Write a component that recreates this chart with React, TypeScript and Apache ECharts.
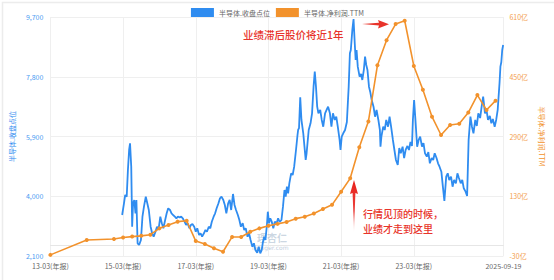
import React, { useEffect, useRef } from "react";
import * as echarts from "echarts";

// x positions are months since 2013-03
const xTickMonths = [0, 24, 48, 72, 96, 120, 149.6];
const xTickLabels = ["13-03(年报)", "15-03(年报)", "17-03(年报)", "19-03(年报)", "21-03(年报)", "23-03(年报)", "2025-09-19"];
const leftTicks = [2100, 4000, 5900, 7800, 9700];
const rightTicks = [-30, 130, 290, 450, 610];

const seriesNames = ["半导体.收盘点位", "半导体.净利润.TTM"];

const profitMonths = [0, 12, 21, 24, 27, 30, 33, 36, 39, 42, 45, 48, 51, 54, 57, 60, 63, 66, 69, 72, 75, 78, 81, 84, 87, 90, 93, 96, 99, 102, 105, 108, 111, 114, 117, 120, 123, 126, 129, 132, 135, 138, 141, 144, 147];
const profitValues = [-27, 13, 15.5, 19.5, 22, 24, 27, 44, 53, 62, 64.5, 10, 2, -9, -18.5, 21, 21, 35, 44, 51, 56, 61, 70, 75, 84, 96, 107, 142, 178, 261, 330, 481, 548, 591, 600, 479, 415, 343, 294, 321, 324, 354, 401, 361, 386];

const indexMonths = [23.7,24.3,24.7,25.2,25.6,26.0,26.3,26.7,27.0,27.3,27.7,28.1,28.4,28.8,29.3,29.9,30.4,30.9,31.5,32.0,32.5,33.1,33.6,34.1,34.7,35.2,35.7,36.3,36.8,37.3,37.9,38.4,38.9,39.5,40.0,40.5,41.1,41.6,42.1,42.7,43.2,43.7,44.3,44.8,45.3,45.9,46.4,46.9,47.5,48.0,48.5,49.1,49.6,50.1,50.7,51.2,51.7,52.3,52.8,53.3,53.9,54.4,54.9,55.5,56.0,56.5,57.1,57.6,58.1,58.7,59.2,59.7,60.3,60.8,61.3,61.9,62.4,62.9,63.5,64.0,64.5,65.1,65.6,66.1,66.7,67.2,67.7,68.3,68.8,69.3,69.8,70.2,70.6,71.0,71.5,71.8,72.2,72.6,73.1,73.6,74.1,74.7,75.2,75.7,76.3,76.8,77.3,77.7,78.1,78.5,78.9,79.5,80.0,80.5,81.1,81.6,81.8,82.1,82.5,82.9,83.2,83.5,83.9,84.3,84.6,84.9,85.3,85.9,86.4,86.9,87.3,87.7,88.1,88.5,89.1,89.6,90.1,90.7,91.2,91.7,92.3,92.8,93.3,93.9,94.4,94.9,95.5,95.8,96.2,96.7,97.3,97.9,98.5,98.9,99.2,99.7,100.1,100.5,100.8,101.1,101.5,102.1,102.6,103.0,103.5,103.9,104.3,104.7,105.2,105.6,106.1,106.7,107.2,107.7,108.3,108.8,109.0,109.3,109.9,110.4,110.9,111.5,112.0,112.5,113.1,113.6,114.1,114.7,115.2,115.7,116.3,116.8,117.3,117.9,118.4,118.9,119.4,119.7,120.1,120.5,121.1,121.6,122.1,122.7,123.2,123.7,124.3,124.8,125.3,125.9,126.4,126.9,127.5,128.0,128.5,129.1,129.6,130.1,130.7,131.2,131.7,132.3,132.8,133.3,133.9,134.4,134.9,135.5,136.0,136.5,137.1,137.6,138.1,138.7,139.2,139.7,140.3,140.8,141.3,141.9,142.4,142.9,143.5,144.0,144.5,145.1,145.6,146.1,146.7,147.2,147.7,148.3,148.6,148.9,149.2,149.5];
const indexValues = [3404,3776,4040,3986,4835,5471,5684,4940,3032,3776,3881,3458,3881,2504,2450,2609,3350,3668,3986,3776,3563,3032,2822,2714,2873,3032,2927,3350,3140,2981,3245,3458,3617,3563,3458,3404,3350,3299,3350,3331,3350,3299,3191,3086,3140,2981,3086,3118,3032,2873,2981,2768,2822,2714,2822,2927,2873,3032,2981,3191,3350,3458,3617,3776,3935,3986,3881,3722,3458,3776,3881,3563,4072,3722,3563,3404,3245,3032,3140,2927,2981,2714,2822,2609,2396,2504,2291,2205,2396,2186,2291,2555,2714,2609,3086,3509,3140,3299,3191,2981,3191,3140,3299,3181,3245,3668,4199,3986,4304,4094,4412,4730,4676,4940,5471,5948,6107,6170,7147,6425,6212,6002,5576,5153,5366,5684,6107,6320,6638,7484,7961,7484,6848,6638,6743,6425,6212,6638,6743,6848,6638,6212,6638,6425,6530,6212,5789,5471,5894,6002,6107,6361,7484,8546,8651,9287,9637,8864,8333,8651,8120,7802,7888,7697,8015,8438,8174,8015,7484,7325,7061,6848,6530,6743,6425,6107,5576,5894,6212,6107,6425,6212,6530,6212,5789,5471,5153,4994,5534,5366,5576,5216,5471,5598,5471,5725,5598,6425,7061,6488,5576,5789,5894,5576,5693,5366,5258,5407,5048,5216,5153,5366,5216,5048,4940,4781,4304,3849,4622,4730,4517,4622,4304,4517,4412,4730,4580,4412,4517,4253,4145,4008,5789,6530,6212,6002,6425,6234,6638,6488,6848,7166,6638,6743,6425,6552,6320,6457,6212,6425,6743,7592,8120,8269,8651,8810];

const BLUE = "#2f8cf0";
const ORANGE = "#f2922c";
const RED = "#e8332a";
const FONT = "Noto Sans CJK SC";

export default function App() {
  const ref = useRef<HTMLDivElement>(null);
  useEffect(() => {
    if (!ref.current) return;
    const chart = echarts.init(ref.current, undefined, { renderer: "svg" });
    const xLabel = (v: number) => {
      for (let i = 0; i < xTickMonths.length; i++) {
        if (Math.abs(xTickMonths[i] - v) < 0.01) return xTickLabels[i];
      }
      return "";
    };
    chart.setOption({
      animation: false,
      backgroundColor: "#fff",
      textStyle: { fontFamily: FONT },
      legend: {
        top: 3,
        left: "center",
        icon: "rect",
        itemWidth: 23,
        itemHeight: 9,
        itemGap: 6,
        textStyle: { fontSize: 7, color: "#666", fontFamily: FONT },
        data: seriesNames,
      },
      grid: { left: 40, right: 47, top: 17, bottom: 24, containLabel: false },
      xAxis: {
        type: "value",
        min: 0,
        max: 149.6,
        axisLine: { show: true, lineStyle: { color: "#e6e6e6" } },
        axisTick: { show: false, customValues: xTickMonths },
        axisLabel: { customValues: xTickMonths, formatter: xLabel, fontSize: 7, color: "#666", margin: 6, fontFamily: FONT },
        splitLine: { show: true, lineStyle: { color: "#efefef", width: 1 } },
      },
      yAxis: [
        {
          type: "value",
          min: 2100,
          max: 9700,
          name: seriesNames[0],
          nameLocation: "middle",
          nameGap: 33,
          nameTextStyle: { color: BLUE, fontSize: 7, fontFamily: FONT },
          axisLine: { show: false },
          axisTick: { show: false, customValues: leftTicks },
          axisLabel: {
            customValues: leftTicks,
            formatter: (v: number) => v.toLocaleString("en-US"),
            fontSize: 7,
            color: "#4a9af2",
            margin: 7,
            fontFamily: FONT,
          },
          splitLine: { show: true, lineStyle: { color: "#efefef", width: 1 } },
        },
        {
          type: "value",
          min: -30,
          max: 610,
          position: "right",
          name: seriesNames[1],
          nameLocation: "middle",
          nameRotate: -90,
          nameGap: 32,
          nameTextStyle: { color: ORANGE, fontSize: 7, fontFamily: FONT },
          axisLine: { show: false },
          axisTick: { show: false, customValues: rightTicks },
          axisLabel: {
            customValues: rightTicks,
            formatter: (v: number) => v + "亿",
            fontSize: 7,
            color: "#f3a04e",
            margin: 6,
            fontFamily: FONT,
          },
          splitLine: { show: false },
        },
      ],
      series: [
        {
          name: seriesNames[0],
          type: "line",
          yAxisIndex: 0,
          showSymbol: false,
          symbol: "none",
          color: BLUE,
          lineStyle: { width: 1.8, color: BLUE },
          data: indexMonths.map((m, i) => [m, indexValues[i]]),
        },
        {
          name: seriesNames[1],
          type: "line",
          yAxisIndex: 1,
          symbol: "circle",
          symbolSize: 4,
          color: ORANGE,
          lineStyle: { width: 1.6, color: ORANGE },
          itemStyle: { color: ORANGE },
          data: profitMonths.map((m, i) => [m, profitValues[i]]),
        },
      ],
      graphic: [
        {
          type: "rect",
          left: 0,
          top: 0,
          shape: { x: 0.5, y: 0.5, width: 553, height: 279 },
          style: { fill: "none", stroke: "#ececec", lineWidth: 1.5 },
          silent: true,
        },
        {
          type: "text",
          x: 243,
          y: 34,
          style: { text: "业绩滞后股价将近1年", fill: RED, fontSize: 10.5, fontFamily: FONT, verticalAlign: "middle", fontWeight: 500 },
          z: 10,
        },
        {
          type: "polygon",
          shape: { points: [[362, 24], [379, 22.7], [378, 20], [389, 24.2], [378, 28.4], [379, 25.6]] },
          style: { fill: RED },
          z: 10,
        },
        {
          type: "polygon",
          shape: { points: [[354, 232], [352.6, 193], [350, 194], [354, 180], [358, 194], [355.4, 193]] },
          style: {
            fill: {
              type: "linear",
              x: 0,
              y: 0,
              x2: 0,
              y2: 1,
              colorStops: [
                { offset: 0, color: "#e8201a" },
                { offset: 0.6, color: "rgba(232,32,26,0.85)" },
                { offset: 1, color: "rgba(232,32,26,0.08)" },
              ],
            },
          },
          z: 10,
        },
        {
          type: "text",
          x: 363,
          y: 213,
          style: { text: "行情见顶的时候，", fill: RED, fontSize: 10, fontFamily: FONT, verticalAlign: "middle", fontWeight: 500 },
          z: 10,
        },
        {
          type: "text",
          x: 363,
          y: 228,
          style: { text: "业绩才走到这里", fill: RED, fontSize: 10, fontFamily: FONT, verticalAlign: "middle", fontWeight: 500 },
          z: 10,
        },
        {
          type: "text",
          x: 257,
          y: 232,
          style: { text: "理杏仁", fill: "rgba(140,165,190,0.45)", fontSize: 10, fontFamily: FONT, fontWeight: "bold" },
          z: 1,
        },
        {
          type: "text",
          x: 252,
          y: 244,
          style: { text: "lixinger.com", fill: "rgba(120,150,185,0.5)", fontSize: 6, fontFamily: "DejaVu Sans" },
          z: 1,
        },
      ],
    });
    return () => chart.dispose();
  }, []);
  return (
    <div
      ref={ref}
      style={{ position: "fixed", left: 0, top: 0, width: 554, height: 280, background: "#fff" }}
    />
  );
}
